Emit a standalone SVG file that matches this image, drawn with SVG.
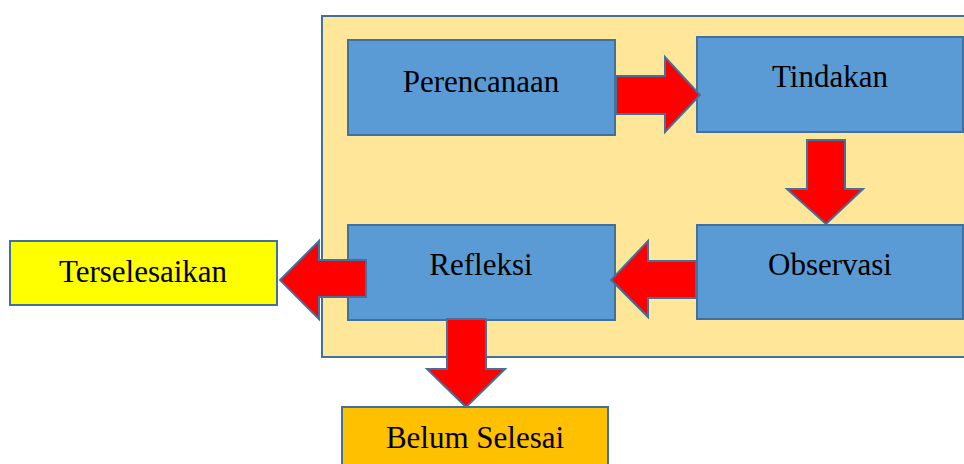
<svg xmlns="http://www.w3.org/2000/svg" width="964" height="464" viewBox="0 0 964 464">
<style>
.box{stroke:#41719c;stroke-width:2}
.blue{fill:#5b9bd5}
.arrow{fill:#ff0000;stroke:#41719c;stroke-width:2;stroke-linejoin:miter}
text{font-family:"Liberation Serif","Times New Roman",serif;font-size:31px;fill:#000;text-anchor:middle}
</style>
<rect width="964" height="464" fill="#ffffff"/>
<g id="container"><rect class="box" x="322" y="16" width="660" height="341" fill="#ffe699"/></g>
<g id="perencanaan"><rect class="box blue" x="348" y="40" width="267" height="95"/><text x="481" y="92">Perencanaan</text></g>
<g id="tindakan"><rect class="box blue" x="697" y="37" width="266" height="95"/><text x="830" y="87">Tindakan</text></g>
<g id="observasi"><rect class="box blue" x="697" y="225" width="266" height="94"/><text x="830" y="275">Observasi</text></g>
<g id="refleksi"><rect class="box blue" x="348" y="225" width="267" height="95"/><text x="481" y="275">Refleksi</text></g>
<g id="terselesaikan"><rect class="box" x="10" y="241" width="267" height="64" fill="#ffff00"/><text x="143" y="282">Terselesaikan</text></g>
<g id="belum-selesai"><rect class="box" x="342" y="407" width="266" height="70" fill="#ffc000"/><text x="475" y="448">Belum Selesai</text></g>
<g id="connectors">
<polygon class="arrow" points="616,76 665,76 665,57 700,95 665,132 665,114 616,114"/>
<polygon class="arrow" points="807,140 845,140 845,189 863,189 826,224 787,189 807,189"/>
<polygon class="arrow" points="696,261 648,261 648,241 611,280 648,317 648,298 696,298"/>
<polygon class="arrow" points="366,260 319,260 319,241 280,280 319,319 319,297 366,297"/>
<polygon class="arrow" points="447,319 486,319 486,369 505,369 466,407 427,369 447,369"/>
</g>
</svg>
